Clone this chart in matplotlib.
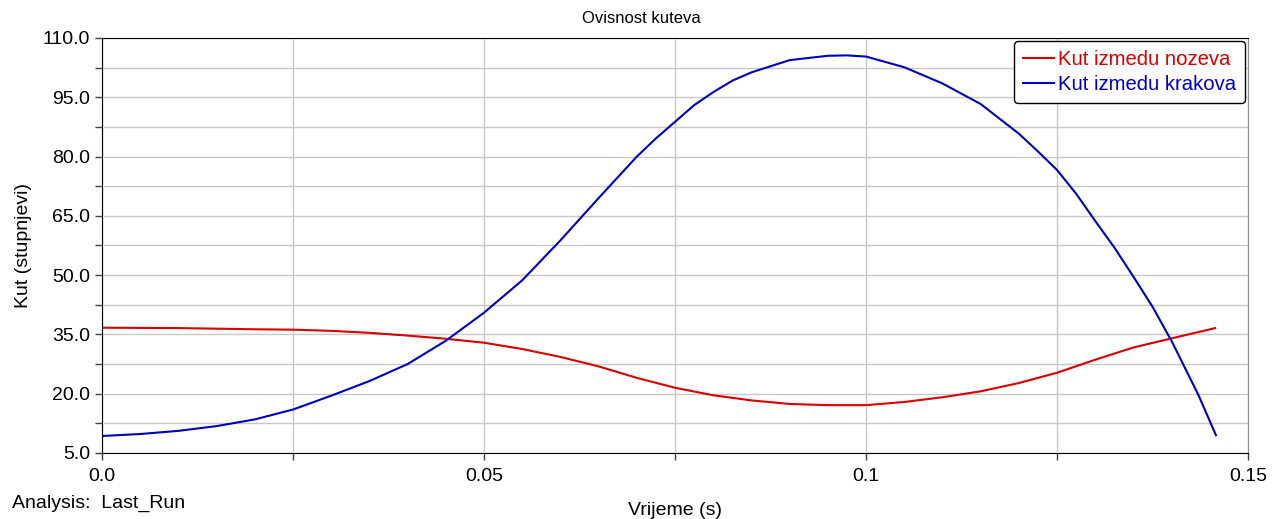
import matplotlib.pyplot as plt
from matplotlib.ticker import MultipleLocator, FixedLocator

plt.rcParams['font.family'] = ['Liberation Sans', 'DejaVu Sans']

# Kut izmedu nozeva (red)
t_noge = [0, 0.01, 0.02, 0.025, 0.03, 0.035, 0.04, 0.045, 0.05, 0.055, 0.06,
          0.065, 0.07, 0.075, 0.08, 0.085, 0.09, 0.095, 0.1, 0.105, 0.11,
          0.115, 0.12, 0.125, 0.13, 0.135, 0.14, 0.1457]
kut_noge = [36.7, 36.6, 36.3, 36.2, 35.9, 35.4, 34.7, 33.9, 32.9, 31.3, 29.3,
            26.9, 24.0, 21.5, 19.6, 18.3, 17.4, 17.1, 17.1, 17.9, 19.1,
            20.6, 22.7, 25.3, 28.6, 31.7, 34.0, 36.6]

# Kut izmedu krakova (blue)
t_krak = [0, 0.005, 0.01, 0.015, 0.02, 0.025, 0.03, 0.035, 0.04, 0.045, 0.05,
          0.055, 0.06, 0.065, 0.07, 0.0725, 0.075, 0.0775, 0.08, 0.0825,
          0.085, 0.09, 0.095, 0.0975, 0.1, 0.105, 0.11, 0.115, 0.12, 0.1225,
          0.125, 0.1275, 0.13, 0.1325, 0.135, 0.1375, 0.14, 0.1435, 0.1458]
kut_krak = [9.3, 9.8, 10.6, 11.8, 13.5, 16.0, 19.5, 23.2, 27.5, 33.4, 40.5,
            48.7, 58.8, 69.5, 80.0, 84.6, 88.8, 93.0, 96.3, 99.2,
            101.3, 104.4, 105.5, 105.6, 105.3, 102.6, 98.5, 93.3, 85.8, 81.3,
            76.6, 70.6, 63.7, 57.0, 49.6, 42.0, 33.3, 19.7, 9.5]

x_ticks = [0.0, 0.05, 0.1, 0.15]
x_labels = ['0.0', '0.05', '0.1', '0.15']
y_ticks = [5, 20, 35, 50, 65, 80, 95, 110]

fig = plt.figure(figsize=(12.82, 5.19), dpi=100)
ax = fig.add_axes([0.0796, 0.1272, 0.8939, 0.7996])

ax.plot(t_noge, kut_noge, color='#d80000', lw=1.5, label='Kut izmedu nozeva')
ax.plot(t_krak, kut_krak, color='#0000c0', lw=1.5, label='Kut izmedu krakova')

ax.set_xlim(0, 0.15)
ax.set_ylim(5, 110)
ax.xaxis.set_major_locator(FixedLocator(x_ticks))
ax.set_xticklabels(x_labels)
ax.xaxis.set_minor_locator(MultipleLocator(0.025))
ax.yaxis.set_major_locator(FixedLocator(y_ticks))
ax.yaxis.set_major_formatter(plt.FormatStrFormatter('%.1f'))
ax.yaxis.set_minor_locator(FixedLocator([y + 7.5 for y in y_ticks[:-1]]))

ax.grid(True, which='both', color='#c8c8c8', lw=1)
ax.set_axisbelow(True)
ax.tick_params(which='both', direction='out', length=5, width=1,
               labelsize=14, color='#404040')
ax.tick_params(axis='x', pad=6)

for s in ['left', 'bottom', 'top']:
    ax.spines[s].set_color('black')
ax.spines['right'].set_color('#909090')

fig.text(0.5, 0.965, 'Ovisnost kuteva', fontsize=12, ha='center', va='center')
ax.set_xlabel('Vrijeme (s)', fontsize=14, labelpad=12)
ax.set_ylabel('Kut (stupnjevi)', fontsize=14, labelpad=8)

leg = ax.legend(loc='upper right', fontsize=14.6, handlelength=1.5,
                handletextpad=0.2, borderpad=0.45, labelspacing=0.3,
                borderaxespad=0.15, fancybox=True, framealpha=1,
                edgecolor='black')
leg.get_frame().set_linewidth(1)
for txt, line in zip(leg.get_texts(), leg.get_lines()):
    txt.set_color(line.get_color())

fig.text(0.009, 0.022, 'Analysis:  Last_Run', fontsize=14)

fig.savefig('out.png', dpi=100)
